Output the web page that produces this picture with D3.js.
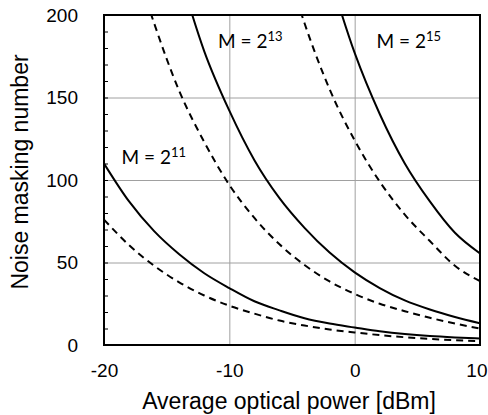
<!DOCTYPE html>
<html>
<head>
<meta charset="utf-8">
<script src="https://cdnjs.cloudflare.com/ajax/libs/d3/7.8.5/d3.min.js"></script>
<style>
  body { margin: 0; background: #fff; }
  svg { display: block; }
</style>
</head>
<body>
<script>
// chart data
var powerDbm = [-20, -18, -16, -14, -12, -10, -8, -6, -4, -2, 0, 2, 4, 6, 8, 10];

var m11Solid  = [110, 87, 69, 55, 43.5, 34.5, 26.5, 21, 16.2, 13, 10.6, 8.3, 6.6, 5.4, 4.6, 4.0];
var m11Dashed = [76, 60.5, 48, 38, 30, 23.8, 19, 14.8, 11.8, 9.4, 7.6, 6.0, 4.7, 3.7, 2.9, 2.3];
var m13Solid  = [null, null, null, 226, 178, 142, 112, 89, 71, 56, 44, 34.5, 27, 21.5, 17, 13.2];
var m13Dashed = [null, 243, 195, 154, 123, 97, 77, 61, 48.5, 38.5, 31, 25, 20.5, 16.5, 13, 10];
var m15Solid  = [null, null, null, null, null, null, null, null, null, 224, 177, 140, 110, 87, 68, 55.5];
var m15Dashed = [null, null, null, null, null, null, null, 244, 195, 155, 124, 99, 79, 63, 48, 38.7];

var xTicks = [-20, -10, 0, 10];
var yTicks = [0, 50, 100, 150, 200];
var yMinor = d3.range(0, 201, 10);

var labels = [
    {base: "M = 2", exp: "11", x: -18.6, y: 110},
    {base: "M = 2", exp: "13", x: -10.9, y: 180},
    {base: "M = 2", exp: "15", x: 1.75, y: 180}
];

var series = [
    {values: m11Solid, dashed: false},
    {values: m11Dashed, dashed: true},
    {values: m13Solid, dashed: false},
    {values: m13Dashed, dashed: true},
    {values: m15Solid, dashed: false},
    {values: m15Dashed, dashed: true}
];

var outerWidth = 488,
    outerHeight = 415,
    plotLeft = 104, plotRight = 480, plotTop = 15, plotBottom = 345;

var x = d3.scaleLinear().domain([-20, 10]).range([plotLeft, plotRight]);
var y = d3.scaleLinear().domain([0, 200]).range([plotBottom, plotTop]);

var svg = d3.select("body").append("svg")
    .attr("width", outerWidth)
    .attr("height", outerHeight);

svg.append("clipPath").attr("id", "plot")
    .append("rect")
    .attr("x", plotLeft).attr("y", plotTop)
    .attr("width", plotRight - plotLeft).attr("height", plotBottom - plotTop);

// gridlines
svg.append("g")
    .attr("transform", "translate(0," + plotBottom + ")")
    .call(d3.axisBottom(x).tickValues([-10, 0]).tickSize(-(plotBottom - plotTop)).tickFormat(""))
    .call(function(g) { g.select(".domain").remove(); })
    .selectAll("line").attr("stroke", "#a0a0a0").attr("stroke-width", 1);

svg.append("g")
    .attr("transform", "translate(" + plotLeft + ",0)")
    .call(d3.axisRight(y).tickValues([50, 100, 150]).tickSize(plotRight - plotLeft).tickFormat(""))
    .call(function(g) { g.select(".domain").remove(); })
    .selectAll("line").attr("stroke", "#a0a0a0").attr("stroke-width", 1);

// minor ticks on the left axis
svg.append("g")
    .attr("transform", "translate(" + plotLeft + ",0)")
    .call(d3.axisRight(y).tickValues(yMinor).tickSize(4).tickFormat(""))
    .call(function(g) { g.select(".domain").remove(); })
    .selectAll("line").attr("stroke", "#000").attr("stroke-width", 1);

// curves
var line = d3.line()
    .defined(function(d) { return d != null; })
    .x(function(d, i) { return x(powerDbm[i]); })
    .y(function(d) { return y(d); })
    .curve(d3.curveMonotoneX);

svg.append("g")
    .attr("clip-path", "url(#plot)")
    .selectAll("path")
    .data(series)
    .enter().append("path")
    .attr("d", function(d) { return line(d.values); })
    .attr("fill", "none")
    .attr("stroke", "#000")
    .attr("stroke-width", 2)
    .attr("stroke-dasharray", function(d) { return d.dashed ? "7,5" : null; });

// frame
svg.append("rect")
    .attr("x", plotLeft).attr("y", plotTop)
    .attr("width", plotRight - plotLeft).attr("height", plotBottom - plotTop)
    .attr("fill", "none")
    .attr("stroke", "#000")
    .attr("stroke-width", 2);

// tick labels
var yAxis = svg.append("g")
    .attr("transform", "translate(" + plotLeft + ",0)")
    .call(d3.axisLeft(y).tickValues(yTicks).tickSize(0).tickPadding(26));
yAxis.select(".domain").remove();
yAxis.selectAll("text")
    .attr("font-family", "'Liberation Sans', Arial, sans-serif")
    .attr("font-size", "19px")
    .attr("fill", "#000");

var xAxis = svg.append("g")
    .attr("transform", "translate(0," + plotBottom + ")")
    .call(d3.axisBottom(x).tickValues(xTicks).tickSize(0).tickPadding(19)
        .tickFormat(function(d) { return String(d); }));
xAxis.select(".domain").remove();
xAxis.selectAll("text")
    .attr("font-family", "'Liberation Sans', Arial, sans-serif")
    .attr("font-size", "19px")
    .attr("fill", "#000");
// keep the last label inside the window
xAxis.selectAll("text")
    .filter(function(d) { return d === 10; })
    .attr("text-anchor", "end")
    .attr("x", 7);

// axis titles
svg.append("text")
    .attr("x", 289)
    .attr("y", 409)
    .attr("text-anchor", "middle")
    .attr("font-family", "'Liberation Sans', Arial, sans-serif")
    .attr("font-size", "23px")
    .text("Average optical power [dBm]");

svg.append("text")
    .attr("transform", "translate(28,172) rotate(-90)")
    .attr("text-anchor", "middle")
    .attr("font-family", "'Liberation Sans', Arial, sans-serif")
    .attr("font-size", "23px")
    .text("Noise masking number");

// M labels
var lab = svg.selectAll(".mlabel")
    .data(labels)
    .enter().append("text")
    .attr("class", "mlabel")
    .attr("x", function(d) { return x(d.x); })
    .attr("y", function(d) { return y(d.y); })
    .attr("font-family", "Lato, 'Open Sans', sans-serif")
    .attr("font-size", "19px")
    .attr("fill", "#000");
lab.append("tspan").text(function(d) { return d.base; });
lab.append("tspan")
    .attr("dy", -7)
    .attr("font-size", "13px")
    .text(function(d) { return d.exp; });
</script>
</body>
</html>
